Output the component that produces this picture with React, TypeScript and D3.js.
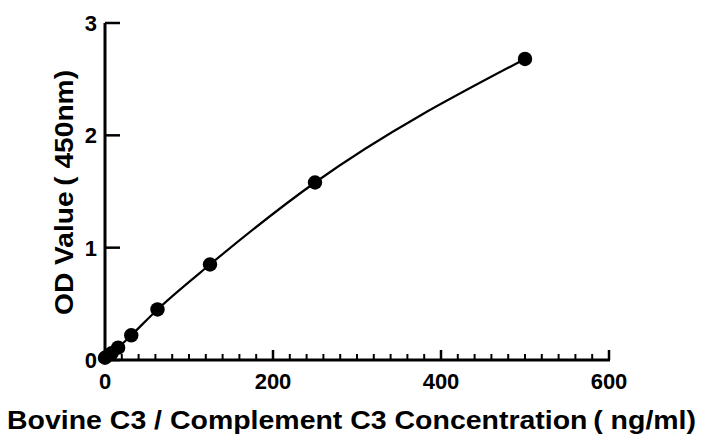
import React from "react";
import * as d3 from "d3";

const concentrations = [0, 7.8, 15.6, 31.25, 62.5, 125, 250, 500];
const odValues = [0.02, 0.06, 0.11, 0.22, 0.45, 0.85, 1.58, 2.68];
const xTicks = [0, 200, 400, 600];
const yTicks = [0, 1, 2, 3];
const xTitle = "Bovine C3 / Complement C3 Concentration\u2009( ng/ml)";
const yTitle = "OD Value\u2009( 450nm)";

const W = 702;
const H = 435;
const font = "'Liberation Sans', Arial, sans-serif";

export default function App() {
  const x = d3.scaleLinear().domain([0, 600]).range([105, 609]);
  const y = d3.scaleLinear().domain([0, 3]).range([360, 23]);
  const pts = concentrations.map((c, i) => [c, odValues[i]] as [number, number]);
  const line = d3
    .line<[number, number]>()
    .x((d) => x(d[0]))
    .y((d) => y(d[1]))
    .curve(d3.curveMonotoneX);
  const minor = d3.range(0, 601, 20).filter((v) => v % 200 !== 0);
  return (
    <svg width={W} height={H} style={{ position: "absolute", left: 0, top: 0, background: "#fff" }}>
      <path d={line(pts) || ""} fill="none" stroke="#000" strokeWidth={2.2} />
      {pts.map((d, i) => (
        <circle key={i} cx={x(d[0])} cy={y(d[1])} r={7.2} fill="#000" />
      ))}
      <line x1={x(0)} x2={x(0)} y1={y(3)} y2={y(0) + 1.5} stroke="#000" strokeWidth={3} />
      <line x1={x(0) - 1.5} x2={x(600) + 1} y1={y(0)} y2={y(0)} stroke="#000" strokeWidth={3} />
      {yTicks.map((t) => (
        <g key={"y" + t}>
          <line x1={x(0)} x2={x(0) + 15} y1={y(t)} y2={y(t)} stroke="#000" strokeWidth={2.5} />
          <text
            x={97}
            y={y(t)}
            dy="0.36em"
            textAnchor="end"
            fontFamily={font}
            fontWeight="bold"
            fontSize={22}
          >
            {t}
          </text>
        </g>
      ))}
      {xTicks.map((t) => (
        <g key={"x" + t}>
          <line x1={x(t)} x2={x(t)} y1={y(0)} y2={y(0) - 10} stroke="#000" strokeWidth={2.5} />
          <text
            x={x(t)}
            y={389}
            textAnchor="middle"
            fontFamily={font}
            fontWeight="bold"
            fontSize={22}
          >
            {t}
          </text>
        </g>
      ))}
      {minor.map((t) => (
        <line key={"m" + t} x1={x(t)} x2={x(t)} y1={y(0)} y2={y(0) - 6} stroke="#000" strokeWidth={2} />
      ))}
      <text
        x={7}
        y={429}
        textLength={689}
        lengthAdjust="spacingAndGlyphs"
        fontFamily={font}
        fontWeight="bold"
        fontSize={26}
      >
        {xTitle}
      </text>
      <text
        transform={`translate(73,315) rotate(-90)`}
        textLength={245}
        lengthAdjust="spacingAndGlyphs"
        fontFamily={font}
        fontWeight="bold"
        fontSize={26}
      >
        {yTitle}
      </text>
    </svg>
  );
}
